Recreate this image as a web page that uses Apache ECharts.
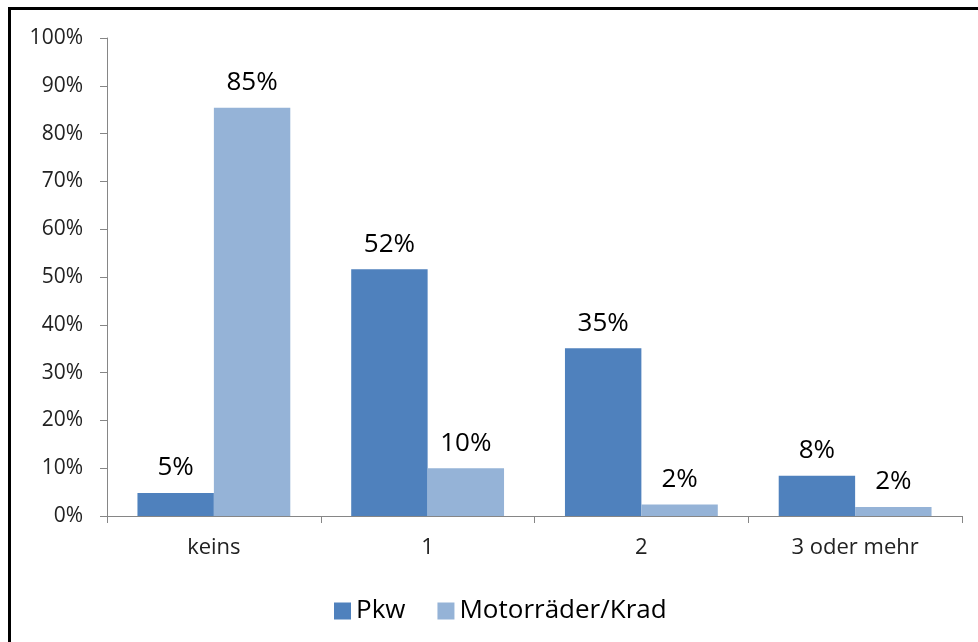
<!DOCTYPE html>
<html>
<head>
<meta charset="utf-8">
<script src="https://cdn.jsdelivr.net/npm/echarts@6/dist/echarts.min.js"></script>
<style>
  html, body { margin: 0; padding: 0; background: #fff; }
  #frame { position: absolute; left: 8px; top: 7px; width: 970px; height: 635px;
           border-left: 3px solid #000; border-top: 3px solid #000; box-sizing: border-box; }
  #chart { position: absolute; left: 0; top: 0; width: 978px; height: 642px; }
</style>
</head>
<body>
<div id="frame"></div>
<div id="chart"></div>
<script>
// categories and values (percent)
var categories = ['keins', '1', '2', '3 oder mehr']
var pkw = [4.8, 51.6, 35.1, 8.4]
var krad = [85.4, 10.0, 2.4, 1.9]
var seriesNames = ['Pkw', 'Motorräder/Krad']

var font = '"Open Sans", "Noto Sans", sans-serif'
var chart = echarts.init(document.getElementById('chart'))

function barLabel () {
  return {
    show: true,
    position: 'top',
    distance: 12,
    fontSize: 26,
    fontFamily: font,
    color: '#000',
    formatter: function (p) { return Math.round(p.value) + '%' }
  }
}

chart.setOption({
  animation: false,
  grid: { left: 107, right: 16, top: 38, bottom: 126 },
  legend: {
    data: seriesNames,
    left: 329,
    top: 593,
    itemWidth: 17,
    itemHeight: 17,
    itemGap: 32,
    itemTextGap: 9,
    itemStyle: { borderWidth: 0 },
    textStyle: { fontSize: 26, fontFamily: font, color: '#000' },
    icon: 'rect'
  },
  xAxis: {
    type: 'category',
    data: categories,
    axisLine: { lineStyle: { color: '#868686', width: 1 } },
    axisTick: { show: true, length: 7, inside: false, lineStyle: { color: '#868686' } },
    axisLabel: { fontSize: 22, fontFamily: font, color: '#222', margin: 21 }
  },
  yAxis: {
    type: 'value',
    min: 0,
    max: 100,
    interval: 10,
    splitLine: { show: false },
    axisLine: { show: true, lineStyle: { color: '#868686', width: 1 } },
    axisTick: { show: true, length: 7, lineStyle: { color: '#868686' } },
    axisLabel: { fontSize: 21, fontFamily: font, color: '#222', margin: 24,
                 formatter: function (v) { return v + '%' } }
  },
  series: [
    {
      name: seriesNames[0],
      type: 'bar',
      data: pkw,
      barGap: '0%',
      barCategoryGap: '28.5%',
      itemStyle: { color: '#4F81BD' },
      label: barLabel()
    },
    {
      name: seriesNames[1],
      type: 'bar',
      data: krad,
      itemStyle: { color: '#95B3D7' },
      label: barLabel()
    }
  ]
})
</script>
</body>
</html>
